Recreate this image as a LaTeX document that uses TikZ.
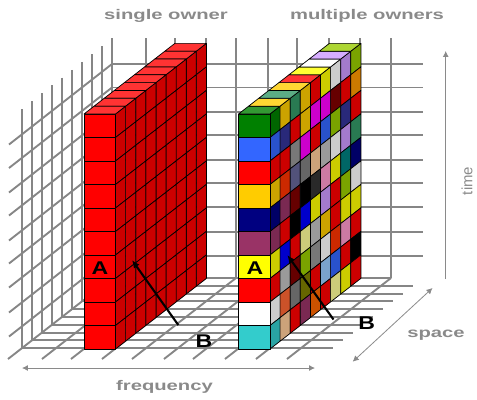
\documentclass[tikz,border=0pt]{standalone}
\usepackage{fontspec}
\usetikzlibrary{arrows.meta}
\setmainfont{Liberation Sans}
\newfontfamily\axisfont[FakeStretch=1.45]{Liberation Sans}
\newfontfamily\tagfont[FakeStretch=1.25]{Liberation Sans}
\definecolor{GridGray}{HTML}{868686}
\definecolor{LabelGray}{HTML}{8A8A8A}
\definecolor{Sgreen}{HTML}{008000}
\definecolor{Sblue}{HTML}{3366FF}
\definecolor{Sred}{HTML}{FF0000}
\definecolor{Sgold}{HTML}{FFCC00}
\definecolor{Snavy}{HTML}{000080}
\definecolor{Splum}{HTML}{993366}
\definecolor{Syellow}{HTML}{FFFF00}
\definecolor{Swhite}{HTML}{FFFFFF}
\definecolor{Saqua}{HTML}{33CCCC}
\definecolor{Ssea}{HTML}{339966}
\definecolor{Sindigo}{HTML}{333399}
\definecolor{Sredor}{HTML}{FF3300}
\definecolor{Spure}{HTML}{0000FF}
\definecolor{Ssilver}{HTML}{C0C0C0}
\definecolor{Scoral}{HTML}{FF6633}
\definecolor{Stan}{HTML}{FFCC99}
\definecolor{Sgray}{HTML}{969696}
\definecolor{Sslate}{HTML}{666699}
\definecolor{Smaroon}{HTML}{800000}
\definecolor{Sblack}{HTML}{000000}
\definecolor{Sdim}{HTML}{808080}
\definecolor{Smagenta}{HTML}{FF00FF}
\definecolor{Skhaki}{HTML}{FFFF99}
\definecolor{Slime}{HTML}{99CC00}
\definecolor{Solive}{HTML}{808000}
\definecolor{Sdark}{HTML}{333333}
\definecolor{Sorange}{HTML}{FF6600}
\definecolor{Spink}{HTML}{FF99CC}
\definecolor{Slav}{HTML}{CC99FF}
\definecolor{Ssky}{HTML}{99CCFF}
\definecolor{Steal}{HTML}{008080}
\definecolor{Samber}{HTML}{FF9900}
\tikzset{
  grid/.style={draw=GridGray, line width=1.9},
  cell/.style={draw=black, line width=0.7, line join=round},
  axis/.style={draw=LabelGray, line width=0.8},
  twoway/.style={{Latex[length=6,width=6]}-{Latex[length=6,width=6]}},
  oneway/.style={-{Latex[length=6,width=6]}},
  pointer/.style={-{Latex[length=8,width=7]}, line width=2.1, draw=black},
  axislabel/.style={text=LabelGray, font=\axisfont\bfseries\fontsize{14}{14}\selectfont, inner sep=0pt},
  timelabel/.style={text=LabelGray, font=\fontsize{15}{15}\selectfont, inner sep=0pt},
  slabtag/.style={text=black, font=\tagfont\bfseries\fontsize{18.5}{18.5}\selectfont, inner sep=0pt}
}
\newcommand{\slabcell}[4]{%
  \filldraw[cell, fill=#4!80!black] ({#1+31.5+10.1*#2},{114-7.85*#2+23.5*#3}) -- ++(10.1,-7.85) -- ++(0,23.5) -- ++(-10.1,7.85) -- cycle;
  \ifnum#2=0
    \filldraw[cell, fill=#4] ({#1},{114+23.5*#3}) rectangle ++(31.5,23.5);
  \fi
  \ifnum#3=0
    \filldraw[cell, fill=#4!80!white] ({#1+10.1*#2},{114-7.85*#2}) -- ++(31.5,0) -- ++(10.1,-7.85) -- ++(-31.5,0) -- cycle;
  \fi
}
\begin{document}
\begin{tikzpicture}[x=1bp,y=-1bp]
\useasboundingbox (0,0) rectangle (477,399);
\foreach \x in {112,146,175,206,236,268,297,329,360,391} {
  \draw[grid] (\x,38)--(\x,278);
}
\foreach \y in {64,87.5,112,135,160,183,207,232,256} {
  \draw[grid] (112,\y)--(423,\y);
  \draw[grid] (112,\y)--(9,\y+80.5);
}
\foreach \k in {0,...,8} {
  \draw[grid] (22+10*\k,109-7.85*\k)--(22+10*\k,348-7.85*\k);
}
\draw[grid] (8,359)--(112,278)--(391,278);
\foreach \x in {146,175,206,236,268,297,329,360,391} {
  \draw[grid] (\x,278)--(\x-104,359);
}
\foreach \k in {1,...,9} {
  \draw[grid] (112-10*\k,278+7.8*\k)--(423-10*\k,278+7.8*\k);
}
\foreach \c in {8,...,0} {
  \foreach \r in {0,...,9} {
    \slabcell{84}{\c}{\r}{Sred}
  }
}
\foreach \cols [count=\c from 0] in {
  {Sgreen,Sblue,Sred,Sgold,Snavy,Splum,Syellow,Sred,Swhite,Saqua},
  {Sgold,Sindigo,Sred,Sredor,Splum,Sred,Spure,Ssilver,Scoral,Stan},
  {Ssea,Sred,Sgray,Sslate,Smaroon,Sblack,Sred,Smaroon,Sdim,Sred},
  {Sgold,Sgold,Smagenta,Sdim,Sblack,Spure,Skhaki,Slime,Solive,Splum},
  {Sred,Smagenta,Sred,Stan,Sdark,Syellow,Ssilver,Sgray,Sred,Sorange},
  {Syellow,Smagenta,Sblue,Ssilver,Spink,Slav,Sgold,Swhite,Ssky,Sred},
  {Swhite,Smaroon,Slime,Swhite,Syellow,Sred,Sred,Sredor,Sblue,Skhaki},
  {Slav,Sred,Sindigo,Slav,Steal,Slime,Syellow,Spink,Sred,Syellow},
  {Slime,Samber,Sred,Ssea,Snavy,Swhite,Syellow,Sred,Sblack,Sred}} {
  \foreach \hue [count=\r from 0] in \cols {
    \slabcell{238.5}{\c}{\r}{\hue}
  }
}
\node[axislabel] (single) at (166,16) {single owner};
\node[axislabel] (multiple) at (367,16) {multiple owners};
\node[axislabel] (freq) at (164.5,387) {frequency};
\node[axislabel] (space) at (436,335) {space};
\node[timelabel, rotate=90] (time) at (467,181) {time};
\coordinate (freqL) at (22,368);
\coordinate (freqR) at (315,368);
\coordinate (timeT) at (445.7,51);
\coordinate (timeB) at (445.7,279);
\coordinate (spaceF) at (352.7,361.7);
\coordinate (spaceB) at (432.5,288);
\draw[axis, twoway] (freqL)--(freqR);
\draw[axis, oneway] (timeB)--(timeT);
\draw[axis, twoway] (spaceF)--(spaceB);
\node[slabtag] (a1) at (100,268) {A};
\node[slabtag] (b1) at (204,341) {B};
\node[slabtag] (a2) at (255,268) {A};
\node[slabtag] (b2) at (366.7,323) {B};
\coordinate (from1) at (178.3,325);
\coordinate (tip1) at (132,260);
\coordinate (from2) at (333.5,319.5);
\coordinate (tip2) at (287.3,255);
\draw[pointer] (from1)--(tip1);
\draw[pointer] (from2)--(tip2);
\end{tikzpicture}
\end{document}
